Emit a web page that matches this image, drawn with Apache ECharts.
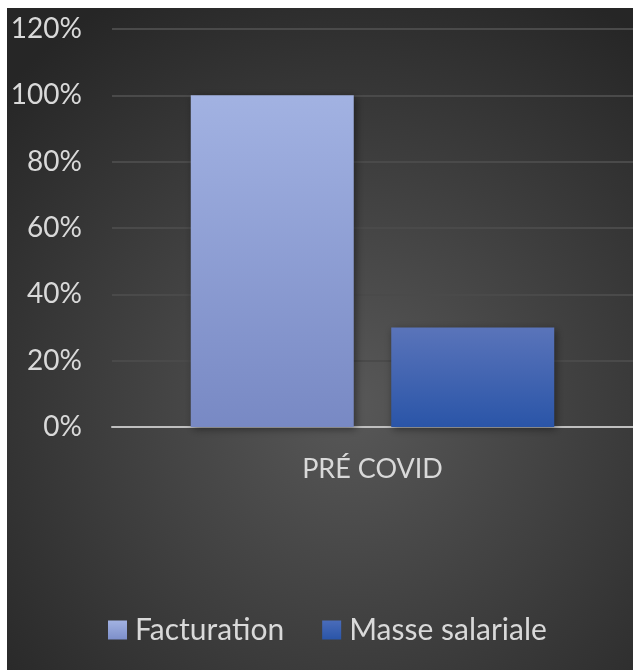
<!DOCTYPE html>
<html>
<head>
<meta charset="utf-8">
<script src="https://cdn.jsdelivr.net/npm/echarts@6/dist/echarts.min.js"></script>
<style>
  html, body { margin: 0; padding: 0; background: #ffffff; }
  #chart { position: absolute; left: 7px; top: 8px; width: 626px; height: 662px; }
</style>
</head>
<body>
<div id="chart"></div>
<script>
// Chart data
const categories = ['PRÉ COVID'];
const seriesNames = ['Facturation', 'Masse salariale'];
const facturation = [1.00];
const masseSalariale = [0.30];
const yTicks = { min: 0, max: 1.2, interval: 0.2 };

const FONT = 'Lato, "Open Sans", sans-serif';
const TEXT = '#d9d9d9';

function vgrad(top, bottom) {
  return new echarts.graphic.LinearGradient(0, 0, 0, 1, [
    { offset: 0, color: top },
    { offset: 1, color: bottom }
  ]);
}

const chart = echarts.init(document.getElementById('chart'));
chart.setOption({
  animation: false,
  backgroundColor: {
    type: 'radial', x: 0.55, y: 0.6, r: 0.75,
    colorStops: [
      { offset: 0, color: '#585858' },
      { offset: 1, color: '#262626' }
    ]
  },
  grid: { left: 105, top: 21, right: -12, height: 398 },
  legend: {
    bottom: 20,
    left: 96,
    itemWidth: 19,
    itemHeight: 19,
    itemGap: 38,
    icon: 'rect',
    textStyle: { color: TEXT, fontSize: 30, fontFamily: FONT, padding: [0, 0, 0, 3] },
    data: [
      { name: seriesNames[0], itemStyle: { color: vgrad('#a2b2e2', '#7d8fca') } },
      { name: seriesNames[1], itemStyle: { color: vgrad('#4a6cba', '#2a55a8') } }
    ]
  },
  xAxis: {
    type: 'category',
    data: categories,
    axisLine: { lineStyle: { color: '#bfbfbf', width: 2 } },
    axisTick: { show: false },
    axisLabel: { color: TEXT, fontSize: 27, fontFamily: FONT, margin: 29 }
  },
  yAxis: {
    type: 'value',
    min: yTicks.min,
    max: yTicks.max,
    interval: yTicks.interval,
    axisLine: { show: false },
    axisTick: { show: false },
    splitLine: { lineStyle: { color: '#4a4a4a', width: 2 } },
    axisLabel: {
      color: TEXT, fontSize: 28, fontFamily: FONT, margin: 30,
      formatter: v => Math.round(v * 100) + '%'
    }
  },
  series: [
    {
      name: seriesNames[0],
      type: 'bar',
      data: facturation,
      barWidth: 163,
      barGap: '23%',
      itemStyle: {
        color: vgrad('#a2b2e2', '#7889c4'),
        shadowColor: 'rgba(0,0,0,0.45)', shadowBlur: 8, shadowOffsetX: 2, shadowOffsetY: 2
      }
    },
    {
      name: seriesNames[1],
      type: 'bar',
      data: masseSalariale,
      barWidth: 163,
      barGap: '23%',
      itemStyle: {
        color: vgrad('#5a74ba', '#2a55a8'),
        shadowColor: 'rgba(0,0,0,0.45)', shadowBlur: 8, shadowOffsetX: 2, shadowOffsetY: 2
      }
    }
  ]
});
</script>
</body>
</html>
